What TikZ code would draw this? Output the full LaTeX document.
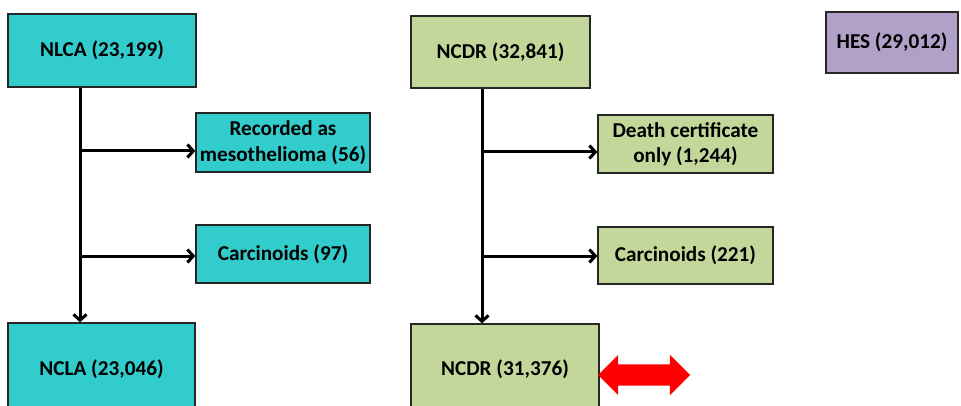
\documentclass[tikz,border=0pt]{standalone}
\usepackage{fontspec}
\setmainfont{Carlito}
\usetikzlibrary{arrows.meta,shapes.arrows}
\definecolor{lcacyan}{RGB}{51,204,204}
\definecolor{cdrgreen}{RGB}{196,215,155}
\definecolor{hespurple}{RGB}{177,160,199}
\begin{document}
\begin{tikzpicture}
[x=1pt,y=-1pt,%
  boxdecorate/.style={shape=rectangle,draw=black!85,line width=1.2pt,fill=#1,%
    align=center,inner sep=2pt,font=\fontsize{21.2}{25.5}\selectfont\bfseries},%
  linedecorate/.style={-,line width=3pt,black},%
  arrowdecorate/.style={-{Straight Barb[length=6pt,width=13pt,line width=3pt]},line width=3pt,black}]
\clip (0,0) rectangle (961,406);
%% boxes
\foreach \nodename/\x/\y/\w/\h/\shade/\boxtext in {
  nlcatop/102/50.5/188/73/lcacyan/{NLCA (23,199)},
  meso/283/142.5/174/59/lcacyan/{Recorded as\\mesothelioma (56)},
  carcleft/283/254/174/58/lcacyan/{Carcinoids (97)},
  nclabottom/101.5/369/187/92/lcacyan/{NCLA (23,046)},
  ncdrtop/500.5/52/179/72/cdrgreen/{NCDR (32,841)},
  dco/685.5/144/175/58/cdrgreen/{Death certificate\\only (1,244)},
  carcright/685.5/255.5/175/57/cdrgreen/{Carcinoids (221)},
  ncdrbottom/505/369/188/90/cdrgreen/{NCDR (31,376)},
  hes/892/42.5/132/61/hespurple/{HES (29,012)}}
{
  \node (\nodename) at (\x,\y) [boxdecorate=\shade,minimum width=\w,minimum height=\h] {\boxtext};
}
%% spines and branches
\coordinate (spineleft) at (80,0);
\coordinate (spineright) at (482,0);
\coordinate (branchmeso) at (80,151);
\coordinate (branchcarcleft) at (80,256);
\coordinate (branchdco) at (482,152);
\coordinate (branchcarcright) at (482,256);
\draw[arrowdecorate] (spineleft |- nlcatop.south) -- (spineleft |- nclabottom.north);
\draw[arrowdecorate] (spineright |- ncdrtop.south) -- (spineright |- ncdrbottom.north);
\path
\foreach \startnode/\endnode in {branchmeso/meso, branchcarcleft/carcleft,
  branchdco/dco, branchcarcright/carcright} {
  (\startnode) edge[arrowdecorate] (\startnode -| \endnode.west)
};
%% link
\node (link) at (644,375) [double arrow,fill=red,draw=none,inner xsep=0pt,inner ysep=10.5pt,%
  minimum height=92pt,double arrow head extend=9.5pt] {};
\end{tikzpicture}
\end{document}
